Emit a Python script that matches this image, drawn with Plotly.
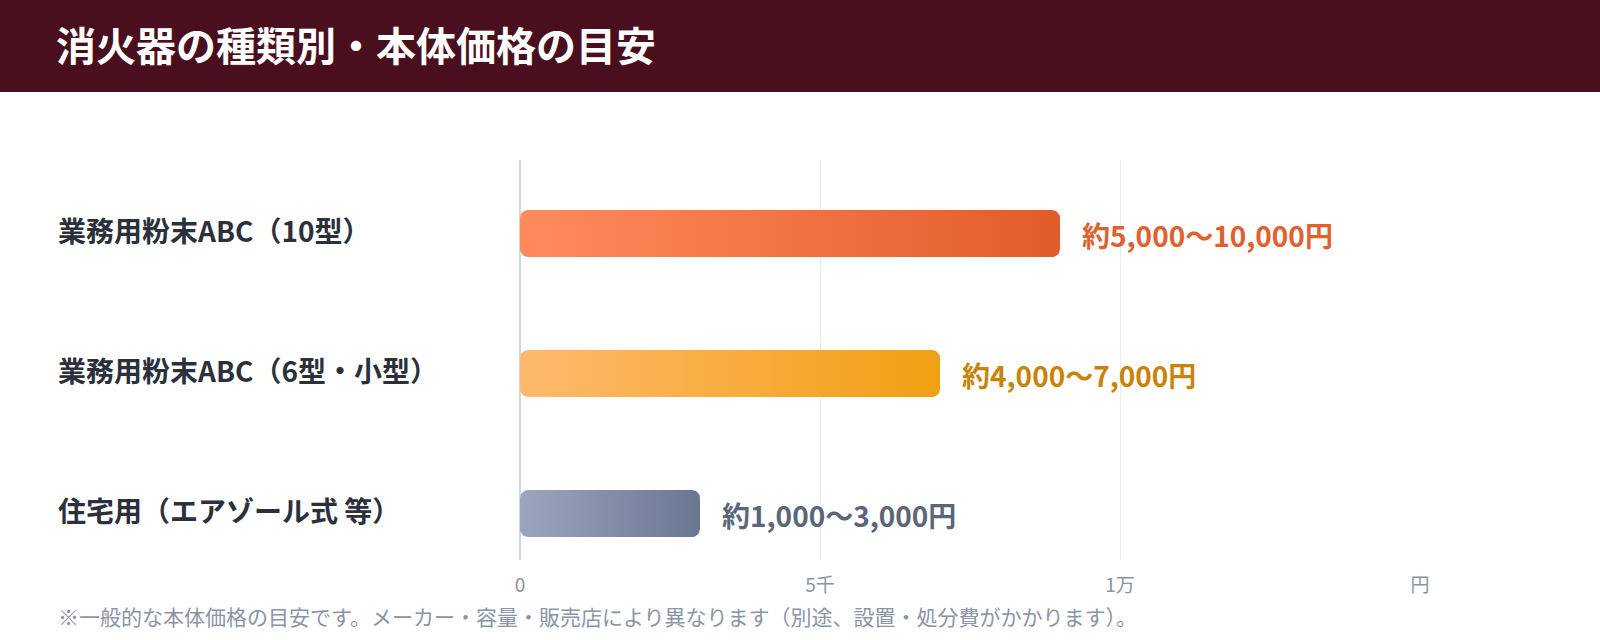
import numpy as np
import plotly.graph_objects as go

# ---- data ----
categories = ["業務用粉末ABC（10型）", "業務用粉末ABC（6型・小型）", "住宅用（エアゾール式 等）"]
values = [9000, 7000, 3000]
value_labels = ["約5,000〜10,000円", "約4,000〜7,000円", "約1,000〜3,000円"]
tick_vals = [0, 5000, 10000, 15000]
tick_text = ["0", "5千", "1万", "円"]
title_text = "消火器の種類別・本体価格の目安"
note_text = "※一般的な本体価格の目安です。メーカー・容量・販売店により異なります（別途、設置・処分費がかかります）。"

# ---- style ----
grad_colors = [("#ff8b5d", "#e25b2b"), ("#ffb96d", "#f0a012"), ("#9ba6be", "#6a7793")]
label_colors = ["#e0602e", "#c98308", "#5b6679"]
FONT = "Noto Sans CJK JP"
W, H = 1600, 640
ML, MR, MT, MB = 520, 180, 160, 80
PW, PH = W - ML - MR, H - MT - MB
XMAX = 15000
Y_RANGE = [2.332, -0.525]
px_x = XMAX / PW
px_y = (Y_RANGE[0] - Y_RANGE[1]) / PH
half_h = 23.5 * px_y
r_px = 8

fig = go.Figure()


def rounded_bar(x1, yc):
    rx, ry = r_px * px_x, r_px * px_y
    y0, y1 = yc - half_h, yc + half_h
    xs, ys = [], []
    corners = [
        (x1 - rx, y0 + ry, -np.pi / 2, 0),
        (x1 - rx, y1 - ry, 0, np.pi / 2),
        (0 + rx, y1 - ry, np.pi / 2, np.pi),
        (0 + rx, y0 + ry, np.pi, 1.5 * np.pi),
    ]
    for cx, cy, a0, a1 in corners:
        t = np.linspace(a0, a1, 10)
        xs += list(cx + rx * np.cos(t))
        ys += list(cy + ry * np.sin(t))
    xs.append(xs[0]); ys.append(ys[0])
    return xs, ys


for i, (cat, v) in enumerate(zip(categories, values)):
    xs, ys = rounded_bar(v, i)
    c0, c1 = grad_colors[i]
    fig.add_trace(go.Scatter(
        x=xs, y=ys, mode="lines", fill="toself",
        line=dict(width=0, color=c1),
        fillgradient=dict(type="horizontal", colorscale=[[0, c0], [1, c1]], start=0, stop=v),
        hoverinfo="skip", showlegend=False,
    ))
    fig.add_annotation(
        xref="paper", yref="y", x=(56 - ML) / PW, y=i, yshift=4,
        text=cat, showarrow=False, xanchor="left", yanchor="middle",
        font=dict(family=FONT, size=28, color="#2b303b", weight=700),
    )
    fig.add_annotation(
        xref="x", yref="y", x=v, y=i, xshift=20, yshift=-1,
        text=value_labels[i], showarrow=False, xanchor="left", yanchor="middle",
        font=dict(family=FONT, size=28, color=label_colors[i], weight=700),
    )

fig.add_annotation(
    xref="paper", yref="paper", x=(56 - ML) / PW, y=-56 / PH,
    text=note_text, showarrow=False, xanchor="left", yanchor="middle",
    font=dict(family=FONT, size=21, color="#8a94a6"),
)

# title band
fig.add_shape(type="rect", xref="paper", yref="paper",
              x0=-ML / PW - 0.01, x1=(W - ML) / PW + 0.01,
              y0=1 + (MT - 92) / PH, y1=1 + MT / PH + 0.01,
              fillcolor="#4a0f1e", line=dict(width=0), layer="below")

fig.update_layout(
    width=W, height=H,
    margin=dict(l=ML, r=MR, t=MT, b=MB),
    paper_bgcolor="white", plot_bgcolor="white",
    title=dict(text=title_text, x=56 / W, xanchor="left", xref="container",
               y=1 - 47 / H, yanchor="middle", yref="container",
               font=dict(family=FONT, size=40, color="white", weight=700)),
    xaxis=dict(range=[0, XMAX], tickvals=tick_vals, ticktext=tick_text,
               showgrid=True, gridcolor="#e8ecf1", gridwidth=1,
               zeroline=True, zerolinecolor="#cfd8e3", zerolinewidth=2,
               showline=False, ticks="", ticklabelstandoff=12,
               tickfont=dict(family=FONT, size=19, color="#8a94a6")),
    yaxis=dict(range=Y_RANGE, showgrid=False, zeroline=False,
               showticklabels=False, showline=False),
    showlegend=False,
)

fig.write_html("out.html")
